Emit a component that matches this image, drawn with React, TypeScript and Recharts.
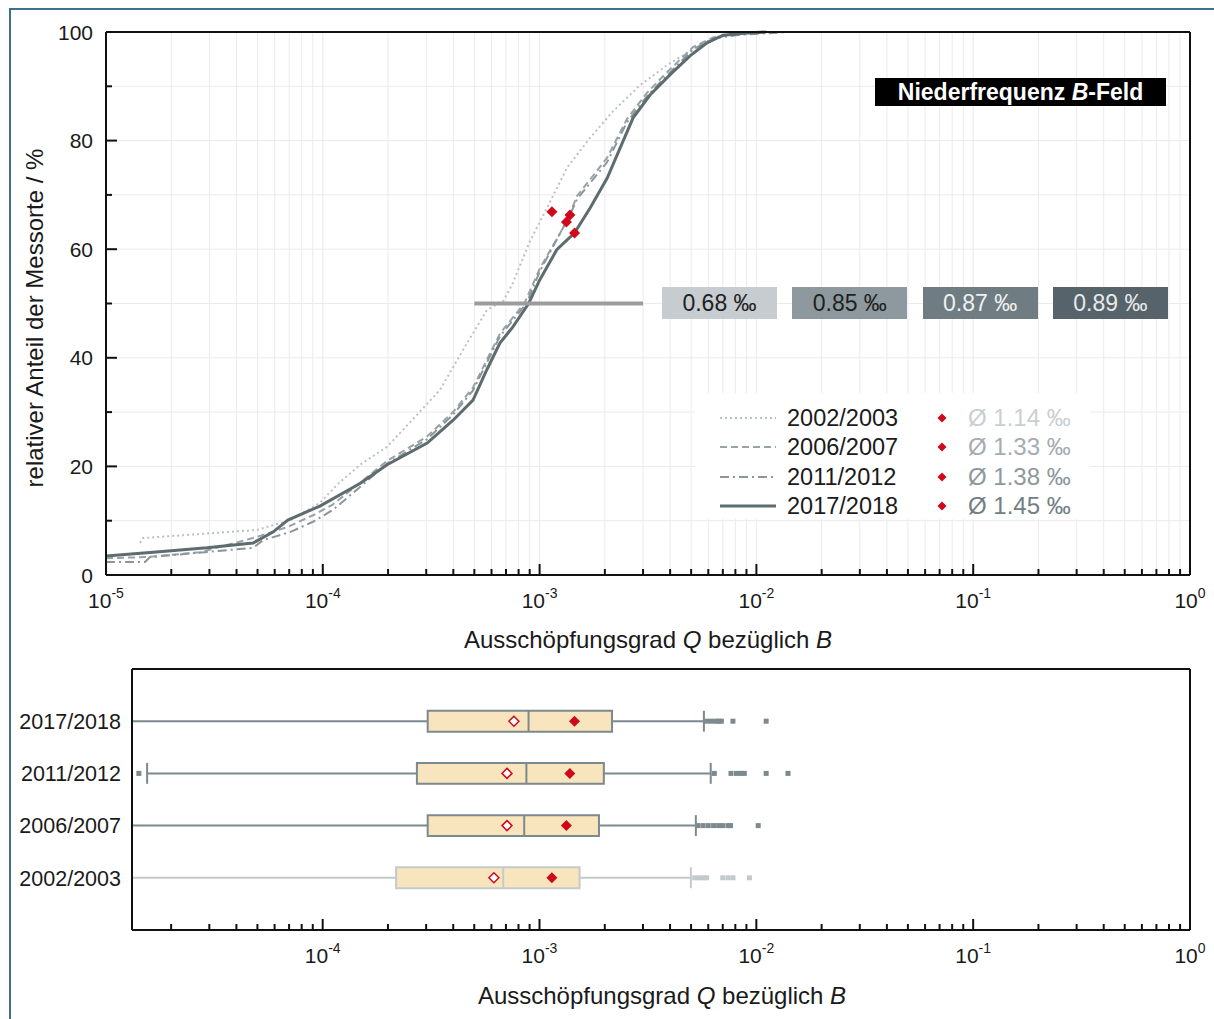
import React from "react";
import {
  ComposedChart,
  Line,
  Scatter,
  XAxis,
  YAxis,
  CartesianGrid,
  ReferenceLine,
  ReferenceArea,
} from "recharts";

const FONT = '"Liberation Sans", Arial, Helvetica, sans-serif';
const AXIS = "#111";
const RED = "#d0091a";

// log axis: decades + minor steps
const decades = [1e-5, 1e-4, 1e-3, 1e-2, 1e-1, 1];
const minorSteps = [2, 3, 4, 5, 6, 7, 8, 9];
const pctTicks = [0, 10, 20, 30, 40, 50, 60, 70, 80, 90, 100];

const seasons = ["2002/2003", "2006/2007", "2011/2012", "2017/2018"];
const medianPermille = [0.68, 0.85, 0.87, 0.89];
const meanPermille = [1.14, 1.33, 1.38, 1.45];
const meanPct = [66.9, 65.0, 66.3, 63.0];

// cumulative distributions [Q, % of sites]
const cdf2002 = [
  [1.435e-5, 5.9], [1.48e-5, 6.8], [4.97e-5, 8.3], [7.06e-5, 10.1], [9.71e-5, 13.3],
  [1.163e-4, 16.6], [1.485e-4, 20.3], [1.977e-4, 23.6], [2.578e-4, 28.5], [3.472e-4, 34.1],
  [4.624e-4, 42.7], [5.72e-4, 48.8], [6.8e-4, 50.5], [7.46e-4, 53.4], [9.03e-4, 61.5],
  [1.082e-3, 67.6], [1.338e-3, 75.0], [1.708e-3, 80.5], [2.181e-3, 85.4], [2.905e-3, 90.2],
  [3.87e-3, 93.9], [5.49e-3, 97.6], [6.79e-3, 99.3], [9.34e-3, 100],
];
const cdf2006 = [
  [1.0e-5, 3.1], [1.546e-5, 3.3], [2.714e-5, 4.2], [4.764e-5, 6.8], [6.84e-5, 8.8],
  [9.01e-5, 11.0], [1.115e-4, 13.0], [1.485e-4, 17.0], [1.977e-4, 21.0], [3.024e-4, 25.5],
  [3.986e-4, 30.0], [4.929e-4, 34.5], [6.57e-4, 44.5], [8.5e-4, 50.0], [1.004e-3, 56.5],
  [1.33e-3, 65.0], [1.488e-3, 69.8], [2.046e-3, 76.8], [2.53e-3, 84.0], [3.13e-3, 88.8],
  [3.87e-3, 92.6], [5.1e-3, 97.2], [6.31e-3, 99.0], [8.4e-3, 99.6], [1.017e-2, 100],
];
const cdf2011 = [
  [1.0e-5, 2.4], [1.513e-5, 2.4], [1.596e-5, 3.3], [4.764e-5, 5.0], [5.3e-5, 6.4],
  [7.06e-5, 7.9], [9.01e-5, 9.8], [1.115e-4, 12.0], [1.485e-4, 16.2], [1.977e-4, 20.5],
  [3.024e-4, 25.0], [3.986e-4, 29.5], [4.929e-4, 34.0], [6.57e-4, 44.0], [8.7e-4, 50.0],
  [1.004e-3, 56.0], [1.38e-3, 66.3], [1.488e-3, 69.2], [2.046e-3, 76.0], [2.53e-3, 83.4],
  [3.13e-3, 88.2], [3.87e-3, 92.0], [5.1e-3, 96.8], [6.31e-3, 98.8], [8.4e-3, 99.5],
  [1.414e-2, 100],
];
const cdf2017 = [
  [1.0e-5, 3.5], [1.65e-5, 4.2], [2.92e-5, 5.0], [4.77e-5, 5.9], [5.89e-5, 7.9],
  [6.9e-5, 10.1], [9.7e-5, 12.7], [1.49e-4, 16.9], [1.98e-4, 20.3], [3.03e-4, 24.3],
  [3.99e-4, 28.5], [4.93e-4, 32.2], [5.71e-4, 37.8], [6.56e-4, 42.7], [7.53e-4, 45.7],
  [8.9e-4, 50.0], [1.0e-3, 54.3], [1.2e-3, 59.9], [1.45e-3, 63.0], [1.71e-3, 67.6],
  [2.05e-3, 73.1], [2.35e-3, 78.6], [2.7e-3, 84.2], [3.23e-3, 88.4], [3.99e-3, 92.1],
  [4.94e-3, 95.6], [5.92e-3, 98.0], [7.02e-3, 99.4], [9.06e-3, 99.8], [1.11e-2, 100],
];

// median band marker in the top chart
const medianBand = [5e-4, 3e-3];
const medianLevel = 50;

// box plot stats (Q), rows 1..4 = seasons
const boxDomainMin = 1.32e-5;
const boxQ1 = [2.18e-4, 3.05e-4, 2.72e-4, 3.05e-4];
const boxQ3 = [1.53e-3, 1.88e-3, 1.98e-3, 2.16e-3];
const geoMean = [6.16e-4, 7.08e-4, 7.08e-4, 7.62e-4];
const whiskerLow = [6e-6, 6e-6, 1.55e-5, 6e-6];
const whiskerHigh = [4.99e-3, 5.26e-3, 6.16e-3, 5.73e-3];
const outliers = [
  [5.2e-3, 5.45e-3, 5.7e-3, 5.9e-3, 7.0e-3, 7.4e-3, 7.8e-3, 9.3e-3],
  [5.38e-3, 5.68e-3, 6.0e-3, 6.35e-3, 6.7e-3, 7.0e-3, 7.4e-3, 7.6e-3, 1.02e-2],
  [1.42e-5, 6.4e-3, 7.64e-3, 8.1e-3, 8.5e-3, 8.8e-3, 1.11e-2, 1.4e-2],
  [5.9e-3, 6.2e-3, 6.5e-3, 6.7e-3, 6.9e-3, 7.8e-3, 1.11e-2],
];

const lineStyles = [
  { stroke: "#b9c1c5", width: 2, dash: "2 3" },
  { stroke: "#98a3a7", width: 2, dash: "7 4" },
  { stroke: "#8a969a", width: 2, dash: "9 4 2 4" },
  { stroke: "#5e6c70", width: 3, dash: undefined },
];
const medianBoxColors = [
  { bg: "#c6ccd0", fg: "#1f1f1f" },
  { bg: "#8d999e", fg: "#1f1f1f" },
  { bg: "#6f7c81", fg: "#eef0f1" },
  { bg: "#56636a", fg: "#e6e9ea" },
];
const meanTextColors = ["#c9cfd2", "#a4adb1", "#8d989c", "#717e83"];
const boxStroke = ["#c3cacd", "#7c898e", "#7c898e", "#7c898e"];

const logTicks = decades.flatMap((d, i) =>
  i === decades.length - 1 ? [d] : [d, ...minorSteps.map((m) => m * d)]
);
const boxTicks = logTicks.filter((t) => t >= boxDomainMin);

const curves = [cdf2002, cdf2006, cdf2011, cdf2017].map((rows) =>
  rows.map(([q, p]) => ({ q, p }))
);
const meanPoints = meanPermille.map((m, i) => ({ q: m / 1000, p: meanPct[i] }));

function isDecade(v: number) {
  const l = Math.log10(v);
  return Math.abs(l - Math.round(l)) < 1e-6;
}

function makeXTick(side: "top" | "bottom", labels: boolean) {
  return (props: any) => {
    const { x, y, payload } = props;
    const v = payload.value;
    const major = isDecade(v);
    const dir = side === "bottom" ? -1 : 1;
    return (
      <g>
        <line x1={x} x2={x} y1={y} y2={y + dir * (major ? 11 : 6)} stroke={AXIS} strokeWidth={2} />
        {labels && major && (
          <text x={x} y={y + 33} textAnchor="middle" fontSize={21} fill="#1a1a1a" fontFamily={FONT}>
            10
            <tspan dy={-10} fontSize={14}>
              {String(Math.round(Math.log10(v)))}
            </tspan>
          </text>
        )}
      </g>
    );
  };
}

function makeYTick(side: "left" | "right", labels: boolean) {
  return (props: any) => {
    const { x, y, payload } = props;
    const v = payload.value;
    const major = v % 20 === 0;
    const dir = side === "left" ? 1 : -1;
    return (
      <g>
        <line x1={x} x2={x + dir * (major ? 11 : 6)} y1={y} y2={y} stroke={AXIS} strokeWidth={2} />
        {labels && major && (
          <text x={x - 13} y={y} dy="0.36em" textAnchor="end" fontSize={21} fill="#1a1a1a" fontFamily={FONT}>
            {v}
          </text>
        )}
      </g>
    );
  };
}

function SeasonTick(props: any) {
  const { x, y, payload } = props;
  return (
    <text x={x - 11} y={y} dy="0.36em" textAnchor="end" fontSize={21.5} fill="#1a1a1a" fontFamily={FONT}>
      {seasons[payload.value - 1]}
    </text>
  );
}

function diamond(r: number, fill: string, stroke: string, sw: number) {
  return (props: any) => {
    const { cx, cy } = props;
    return (
      <polygon
        points={`${cx},${cy - r} ${cx + r},${cy} ${cx},${cy + r} ${cx - r},${cy}`}
        fill={fill}
        stroke={stroke}
        strokeWidth={sw}
      />
    );
  };
}

function outlierDot(color: string) {
  return (props: any) => {
    const { cx, cy } = props;
    return <rect x={cx - 2.5} y={cy - 2.5} width={5} height={5} fill={color} />;
  };
}

const axisLine = { stroke: AXIS, strokeWidth: 2 };

function CdfChart() {
  return (
    <div style={{ position: "absolute", left: 0, top: 0 }}>
      <ComposedChart width={1214} height={660} margin={{ top: 31, right: 23, bottom: 84, left: 105 }}>
        <CartesianGrid stroke="#ebebeb" strokeWidth={1} />
        <XAxis
          dataKey="q"
          type="number"
          scale="log"
          domain={[1e-5, 1]}
          allowDataOverflow
          ticks={logTicks}
          interval={0}
          height={1}
          tickSize={0}
          tickMargin={0}
          tickLine={false}
          axisLine={axisLine}
          tick={makeXTick("bottom", true)}
        />
        <XAxis
          xAxisId="top"
          orientation="top"
          type="number"
          scale="log"
          domain={[1e-5, 1]}
          allowDataOverflow
          ticks={logTicks}
          interval={0}
          height={1}
          tickSize={0}
          tickMargin={0}
          tickLine={false}
          axisLine={axisLine}
          tick={makeXTick("top", false)}
        />
        <YAxis
          dataKey="p"
          type="number"
          domain={[0, 100]}
          ticks={pctTicks}
          interval={0}
          width={1}
          tickSize={0}
          tickMargin={0}
          tickLine={false}
          axisLine={axisLine}
          tick={makeYTick("left", true)}
        />
        <YAxis
          yAxisId="right"
          orientation="right"
          type="number"
          domain={[0, 100]}
          ticks={pctTicks}
          interval={0}
          width={1}
          tickSize={0}
          tickMargin={0}
          tickLine={false}
          axisLine={axisLine}
          tick={makeYTick("right", false)}
        />
        {curves.map((pts, i) => (
          <Line
            key={seasons[i]}
            data={pts}
            dataKey="p"
            type="linear"
            stroke={lineStyles[i].stroke}
            strokeWidth={lineStyles[i].width}
            strokeDasharray={lineStyles[i].dash}
            dot={false}
            activeDot={false}
            isAnimationActive={false}
          />
        ))}
        <ReferenceLine
          segment={[
            { x: medianBand[0], y: medianLevel },
            { x: medianBand[1], y: medianLevel },
          ]}
          stroke="#9c9c9c"
          strokeWidth={4}
        />
        <Scatter data={meanPoints} shape={diamond(5.5, RED, RED, 0)} isAnimationActive={false} />
      </ComposedChart>

      {/* title tag */}
      <div
        style={{
          position: "absolute", left: 875, top: 78, width: 291, height: 28, background: "#000",
          color: "#fff", fontWeight: "bold", fontSize: 23, lineHeight: "28px", textAlign: "center",
          fontFamily: FONT,
        }}
      >
        Niederfrequenz <i>B</i>-Feld
      </div>

      {/* median tags */}
      {medianPermille.map((m, i) => (
        <div
          key={m}
          style={{
            position: "absolute", left: 662 + i * 130.3, top: 287, width: 115, height: 32,
            background: medianBoxColors[i].bg, color: medianBoxColors[i].fg, fontSize: 23,
            lineHeight: "32px", textAlign: "center", fontFamily: FONT,
          }}
        >
          {m.toFixed(2)} ‰
        </div>
      ))}

      {/* legend */}
      <div style={{ position: "absolute", left: 695, top: 393, width: 395, height: 126, background: "#fff", fontFamily: FONT }}>
        {seasons.map((s, i) => {
          const cy = 25 + i * 29.3;
          return (
            <React.Fragment key={s}>
              <svg style={{ position: "absolute", left: 25, top: cy - 5 }} width={56} height={10}>
                <line
                  x1={0} x2={56} y1={5} y2={5}
                  stroke={lineStyles[i].stroke}
                  strokeWidth={lineStyles[i].width}
                  strokeDasharray={lineStyles[i].dash}
                />
              </svg>
              <div style={{ position: "absolute", left: 92, top: cy - 14, fontSize: 23.5, lineHeight: "28px", color: "#1a1a1a" }}>
                {s}
              </div>
              <svg style={{ position: "absolute", left: 242, top: cy - 5 }} width={10} height={10}>
                <polygon points="5,0.5 9.5,5 5,9.5 0.5,5" fill={RED} />
              </svg>
              <div style={{ position: "absolute", left: 273, top: cy - 14, fontSize: 24, lineHeight: "28px", color: meanTextColors[i] }}>
                Ø {meanPermille[i].toFixed(2)} ‰
              </div>
            </React.Fragment>
          );
        })}
      </div>

      {/* axis titles */}
      <div
        style={{
          position: "absolute", left: 35, top: 318, transform: "translate(-50%, -50%) rotate(-90deg)",
          whiteSpace: "nowrap", fontSize: 24, color: "#1a1a1a", fontFamily: FONT,
        }}
      >
        relativer Anteil der Messorte / %
      </div>
      <div
        style={{
          position: "absolute", left: 648, top: 640, transform: "translate(-50%, -50%)",
          whiteSpace: "nowrap", fontSize: 24, color: "#1a1a1a", fontFamily: FONT,
        }}
      >
        Ausschöpfungsgrad <i>Q</i> bezüglich <i>B</i>
      </div>
    </div>
  );
}

function BoxChart() {
  const refs: React.ReactNode[] = [];
  seasons.forEach((s, i) => {
    const row = i + 1;
    const c = boxStroke[i];
    refs.push(
      <ReferenceLine key={`wl${s}`} segment={[{ x: whiskerLow[i], y: row }, { x: boxQ1[i], y: row }]} stroke={c} strokeWidth={2} ifOverflow="hidden" />,
      <ReferenceLine key={`wh${s}`} segment={[{ x: boxQ3[i], y: row }, { x: whiskerHigh[i], y: row }]} stroke={c} strokeWidth={2} ifOverflow="hidden" />,
      <ReferenceLine key={`ch${s}`} segment={[{ x: whiskerHigh[i], y: row - 0.2 }, { x: whiskerHigh[i], y: row + 0.2 }]} stroke={c} strokeWidth={2} ifOverflow="hidden" />,
      <ReferenceLine key={`cl${s}`} segment={[{ x: whiskerLow[i], y: row - 0.2 }, { x: whiskerLow[i], y: row + 0.2 }]} stroke={c} strokeWidth={2} ifOverflow="hidden" />,
      <ReferenceArea key={`b${s}`} x1={boxQ1[i]} x2={boxQ3[i]} y1={row - 0.2} y2={row + 0.2} fill="#f9e5bd" fillOpacity={1} stroke={c} strokeWidth={2} ifOverflow="hidden" />,
      <ReferenceLine key={`m${s}`} segment={[{ x: medianPermille[i] / 1000, y: row - 0.2 }, { x: medianPermille[i] / 1000, y: row + 0.2 }]} stroke={c} strokeWidth={2} />
    );
  });

  return (
    <div style={{ position: "absolute", left: 0, top: 640 }}>
      <ComposedChart width={1214} height={380} margin={{ top: 28, right: 23, bottom: 89, left: 131 }}>
        <XAxis
          dataKey="q"
          type="number"
          scale="log"
          domain={[boxDomainMin, 1]}
          allowDataOverflow
          ticks={boxTicks}
          interval={0}
          height={1}
          tickSize={0}
          tickMargin={0}
          tickLine={false}
          axisLine={axisLine}
          tick={makeXTick("bottom", true)}
        />
        <XAxis
          xAxisId="top"
          orientation="top"
          type="number"
          scale="log"
          domain={[boxDomainMin, 1]}
          allowDataOverflow
          ticks={boxTicks}
          interval={0}
          height={1}
          tickSize={0}
          tickMargin={0}
          tickLine={false}
          axisLine={axisLine}
          tick={makeXTick("top", false)}
        />
        <YAxis
          dataKey="row"
          type="number"
          domain={[0, 5]}
          ticks={[1, 2, 3, 4]}
          interval={0}
          width={1}
          tickSize={0}
          tickMargin={0}
          tickLine={false}
          axisLine={axisLine}
          tick={SeasonTick}
        />
        <YAxis yAxisId="right" orientation="right" type="number" domain={[0, 5]} width={1} tick={false} tickLine={false} axisLine={axisLine} />
        {refs}
        {seasons.map((s, i) => (
          <Scatter
            key={`o${s}`}
            data={outliers[i].map((q) => ({ q, row: i + 1 }))}
            shape={outlierDot(boxStroke[i])}
            isAnimationActive={false}
          />
        ))}
        <Scatter
          data={geoMean.map((q, i) => ({ q, row: i + 1 }))}
          shape={diamond(5, "#fff", RED, 1.5)}
          isAnimationActive={false}
        />
        <Scatter
          data={meanPermille.map((m, i) => ({ q: m / 1000, row: i + 1 }))}
          shape={diamond(5.5, RED, RED, 0)}
          isAnimationActive={false}
        />
      </ComposedChart>
      <div
        style={{
          position: "absolute", left: 662, top: 356, transform: "translate(-50%, -50%)",
          whiteSpace: "nowrap", fontSize: 24, color: "#1a1a1a", fontFamily: FONT,
        }}
      >
        Ausschöpfungsgrad <i>Q</i> bezüglich <i>B</i>
      </div>
    </div>
  );
}

export default function App() {
  return (
    <div style={{ position: "relative", width: 1214, height: 1019, overflow: "hidden", background: "#fff", fontFamily: FONT }}>
      <style>{"body{margin:0}"}</style>
      <div
        style={{
          position: "absolute", left: 9, top: 8, right: -10, bottom: -10,
          borderLeft: "2px solid #41708c", borderTop: "2px solid #41708c",
        }}
      />
      <CdfChart />
      <BoxChart />
    </div>
  );
}
